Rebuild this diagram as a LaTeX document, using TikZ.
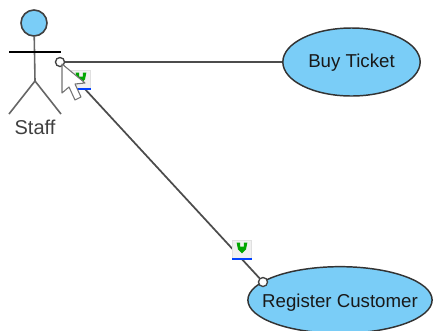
\documentclass[tikz,border=0pt]{standalone}
\usepackage{fontspec}
\setmainfont{Liberation Sans}
\usetikzlibrary{shapes.geometric}
\definecolor{ucfill}{RGB}{122,205,247}
\tikzset{
  usecase/.style={ellipse,draw=black!80,line width=1.1pt,fill=ucfill,inner sep=0pt,
    font=\fontsize{14}{15}\selectfont,text=black!90},
  limb/.style={draw=black!60,line width=1.2pt},
  assoc/.style={draw=black!70,line width=1.3pt},
  endpt/.style={circle,draw=black!75,fill=white,line width=1pt,inner sep=0pt,minimum size=6.8pt},
  iconbox/.style={draw=black!12,fill=black!6,line width=.5pt,minimum size=14pt,inner sep=0pt},
}
\begin{document}
\begin{tikzpicture}[x=0.75pt,y=-0.75pt]
            \useasboundingbox (0,0) rectangle (433,330);
            % use cases
            \node[usecase,minimum width=103pt,minimum height=51pt] (buy) at (351.5,62) {\raisebox{-.7pt}[\height][\depth]{Buy Ticket}\hspace{4pt}};
            \node[usecase,inner xsep=-9.5pt,minimum height=50pt] (register) at (340,300) {\raisebox{-2pt}[\height][\depth]{Register Customer}\hspace{1pt}};
            % actor
            \node[circle,draw=black!75,fill=ucfill,line width=1.2pt,minimum size=19.5pt,inner sep=0pt] (head) at (34,23) {};
            \coordinate (hip) at (35,81);
            \coordinate (footl) at (9,114);
            \coordinate (footr) at (61,114);
            \coordinate (arml) at (9,52);
            \coordinate (armr) at (61,52);
            \draw[limb] (head) -- (hip);
            \draw[limb] (footl) -- (hip) -- (footr);
            \draw[black,line width=1pt] (arml) -- (armr);
            \node[font=\fontsize{15}{16}\selectfont,text=black!75] (staff) at (35,127) {Staff};
            % connectors
            \node[endpt] (start) at (60,62) {};
            \node[endpt] (stop) at (263,282) {};
            \draw[assoc] (start) -- (buy);
            \draw[assoc] (start) -- (stop);
            % icons
            \foreach \n/\X/\Y in {iconA/81/80,iconB/242/250}
            {\node[iconbox] (\n) at (\X,\Y) {};
            \fill[green!65!black] ([xshift=-4pt,yshift=5.5pt]\n.center) -- ++(2.6pt,0) -- ++(0,-3pt) -- ++(2.8pt,0) -- ++(0,3pt) -- ++(2.6pt,0) -- ++(-1pt,-5pt) -- ++(-3pt,-3pt) -- ++(-3pt,3pt) -- cycle;
            \draw[blue!75!cyan,line width=1.2pt] ([yshift=.5pt]\n.south west) -- ([yshift=.5pt]\n.south east);}
            % cursor
            \draw[black!55,fill=white,line width=.8pt,line join=round] (62,64) -- (62,93) -- (69,87) -- (75,100) -- (81,97) -- (75,84) -- (85,83) -- cycle;
\end{tikzpicture}
\end{document}
